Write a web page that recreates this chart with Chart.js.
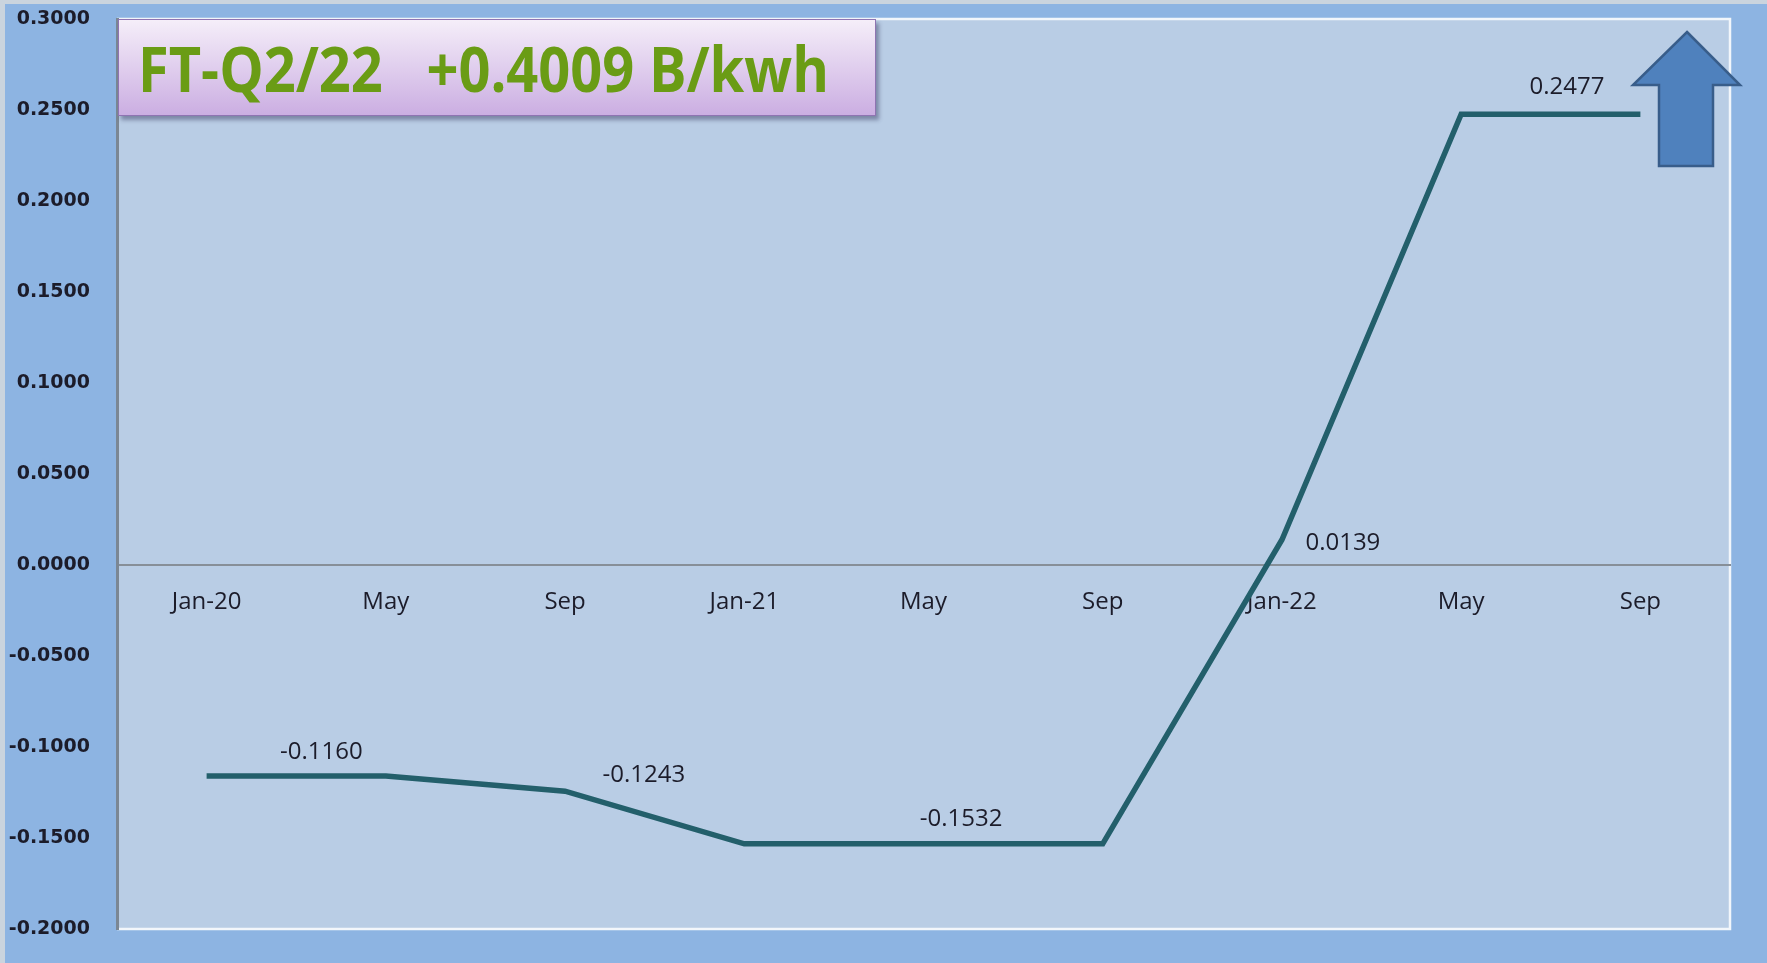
<!DOCTYPE html>
<html>
<head>
<meta charset="utf-8">
<title>FT Q2/22</title>
<script src="https://cdn.jsdelivr.net/npm/chart.js@4.4.1/dist/chart.umd.min.js"></script>
<style>
html,body{margin:0;padding:0;background:#8db4e2;}
#wrap{position:relative;width:1767px;height:963px;overflow:hidden;}
#title{position:absolute;left:118px;top:19px;width:758px;height:97px;box-sizing:border-box;
  border:1.5px solid #8f74b2;background:linear-gradient(#f5eef9,#cbaee2);
  box-shadow:3px 4px 4px rgba(50,50,90,.45);display:flex;align-items:center;}
#title span{display:inline-block;margin-left:19px;font:bold 63px "Open Sans";color:#6a9c15;
  white-space:pre;transform-origin:0 50%;line-height:1;}
</style>
</head>
<body>
<div id="wrap">
  <canvas id="ftChart" width="1767" height="963"></canvas>
  <div id="title"><span id="titleText">FT-Q2/22   +0.4009 B/kwh</span></div>
</div>
<script>
// data
var months=["Jan-20","May","Sep","Jan-21","May","Sep","Jan-22","May","Sep"];
var ftValues=[-0.1160,-0.1160,-0.1243,-0.1532,-0.1532,-0.1532,0.0139,0.2477,0.2477];
var yMin=-0.2, yMax=0.3, yStep=0.05;
var labelPoints=[1,2,4,6,7];

// squeeze the title to the width seen in the picture
var tt=document.getElementById('titleText');
tt.style.transform='scaleX('+(691/tt.getBoundingClientRect().width)+')';

var bgPlugin={
	id:'bg',
	beforeDraw:function(chart){
		var c=chart.ctx,a=chart.chartArea;
		c.save();
		c.fillStyle='#cad4de';
		c.fillRect(0,0,chart.width,chart.height);
		c.fillStyle='#8db4e2';
		c.fillRect(5,4,chart.width-5,chart.height-4);
		c.fillStyle='#b9cde5';
		c.fillRect(a.left,a.top,a.right-a.left,a.bottom-a.top);
		c.strokeStyle='#f2f6fb';
		c.lineWidth=2.5;
		c.beginPath();
		c.moveTo(a.left,a.top);
		c.lineTo(a.right,a.top);
		c.lineTo(a.right,a.bottom);
		c.lineTo(a.left,a.bottom);
		c.stroke();
		c.restore();
	}
};

// value labels, placed as in the picture (shift in categories, dy in px)
var labelPlugin={
	id:'vlabels',
	afterDatasetsDraw:function(chart){
		var spots=[{dx:-0.36,dy:-24},{dx:0.44,dy:-16},{dx:0.21,dy:-25},{dx:0.34,dy:3},{dx:0.59,dy:-27}];
		var c=chart.ctx,xs=chart.scales.x,ys=chart.scales.y;
		var step=xs.getPixelForValue(1)-xs.getPixelForValue(0);
		c.save();
		c.font='24px "Open Sans"';
		c.fillStyle='#1c1c2a';
		c.textAlign='center';
		c.textBaseline='middle';
		for(var k=0;k<labelPoints.length;k++){
			var i=labelPoints[k];
			var x=xs.getPixelForValue(i)+spots[k].dx*step;
			var y=ys.getPixelForValue(ftValues[i])+spots[k].dy;
			c.fillText(ftValues[i].toFixed(4),x,y);
		}
		c.restore();
	}
};

var arrowPlugin={
	id:'arrow',
	afterDraw:function(chart){
		var c=chart.ctx,r=chart.chartArea.right,t=chart.chartArea.top;
		c.save();
		c.beginPath();
		c.moveTo(r-43,t+13);
		c.lineTo(r+10,t+66);
		c.lineTo(r-17,t+66);
		c.lineTo(r-17,t+147);
		c.lineTo(r-71,t+147);
		c.lineTo(r-71,t+66);
		c.lineTo(r-97,t+66);
		c.closePath();
		c.fillStyle='#4f81bd';
		c.fill();
		c.strokeStyle='#385d8a';
		c.lineWidth=2.5;
		c.stroke();
		c.restore();
	}
};

new Chart(document.getElementById('ftChart'),{
	type:'line',
	data:{
		labels:months,
		datasets:[{
			label:'FT',
			data:ftValues,
			borderColor:'#235f6b',
			borderWidth:5.5,
			pointRadius:0,
			tension:0,
			fill:false
		}]
	},
	options:{
		responsive:false,
		animation:false,
		layout:{padding:{left:0,top:19,right:37,bottom:34}},
		plugins:{legend:{display:false},tooltip:{enabled:false}},
		scales:{
			x:{
				position:{y:0},
				offset:true,
				grid:{display:false,drawTicks:false},
				border:{display:true,color:'#878f98',width:2},
				ticks:{
					padding:23,
					color:'#1c1c2a',
					font:{family:'"Open Sans"',size:24}
				}
			},
			y:{
				min:yMin,
				max:yMax,
				afterFit:function(s){
					s.width=117;
					s.paddingTop=0;
					s.paddingBottom=0;
				},
				grid:{display:false,drawTicks:false},
				border:{display:true,color:'#7b8794',width:3},
				ticks:{
					stepSize:yStep,
					padding:27,
					color:'#1c1c2a',
					font:{family:'"DejaVu Sans"',size:19,weight:'bold'},
					callback:function(v){return v.toFixed(4);}
				}
			}
		}
	},
	plugins:[bgPlugin,labelPlugin,arrowPlugin]
});
</script>
</body>
</html>
